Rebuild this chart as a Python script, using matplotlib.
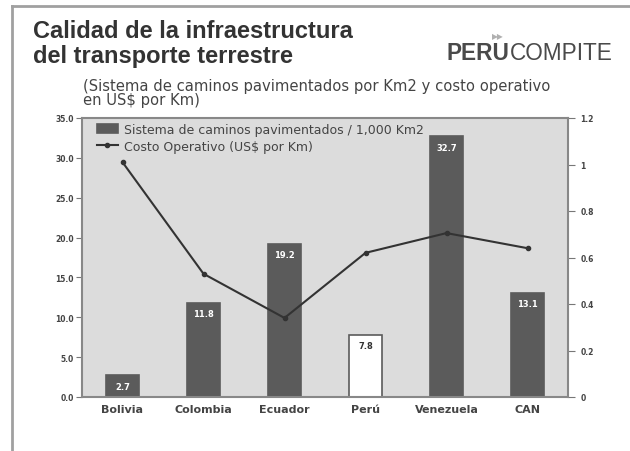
import numpy as np
import matplotlib
matplotlib.use("Agg")
import matplotlib.pyplot as plt
from matplotlib.lines import Line2D

# data
paises = ["Bolivia", "Colombia", "Ecuador", "Perú", "Venezuela", "CAN"]
caminos = [2.7, 11.8, 19.2, 7.8, 32.7, 13.1]
costo = [1.01, 0.53, 0.34, 0.62, 0.705, 0.64]
ticks_izq = [0, 5, 10, 15, 20, 25, 30, 35]
ticks_der = [0, 0.2, 0.4, 0.6, 0.8, 1, 1.2]
etiq_der = ["0", "0.2", "0.4", "0.6", "0.8", "1", "1.2"]

plt.rcParams['font.family'] = ['DejaVu Sans']
gris_txt = "#444444"

W, H = 630, 452
fig = plt.figure(figsize=(6.3, 4.52), dpi=100)

def fy(y):
    return 1 - y / H

# frame lines of the page
fig.add_artist(Line2D([12/W, 12/W], [0, fy(7)], color="#a0a0a0", lw=2))
fig.add_artist(Line2D([12/W, 1], [fy(7), fy(7)], color="#a0a0a0", lw=2))

ax = fig.add_axes([82/W, fy(398), 486/W, 279/H])
ax.set_facecolor("#dcdcdc")

x = np.arange(len(paises))
colores = ["#5b5b5b"] * len(paises)
colores[3] = "white"
bars = ax.bar(x, caminos, width=0.4, color=colores, edgecolor="#5b5b5b", linewidth=1.2,
              label="Sistema de caminos pavimentados / 1,000 Km2", zorder=2)
for i, b in enumerate(bars):
    c = "#333333" if i == 3 else "white"
    ax.text(b.get_x() + b.get_width() / 2, caminos[i] - 0.8, f"{caminos[i]:.1f}",
            ha="center", va="top", fontsize=6, color=c, fontweight="bold", zorder=3)

ax.set_xlim(-0.5, len(paises) - 0.5)
ax.set_ylim(0, 35)
ax.set_yticks(ticks_izq)
ax.set_yticklabels([f"{t:.1f}" for t in ticks_izq], fontsize=5.5, fontweight="bold", color=gris_txt)
ax.set_xticks(x)
ax.set_xticklabels(paises, fontsize=8, fontweight="bold", color=gris_txt)
ax.tick_params(axis="x", length=0, pad=5)
ax.tick_params(axis="y", length=4, color="#777777", direction="out", pad=2)
ax.spines["right"].set_visible(False)
for s in ["left", "bottom", "top"]:
    ax.spines[s].set_color("#888888")
    ax.spines[s].set_linewidth(1.5)

ax2 = ax.twinx()
ax2.plot(x, costo, color="#333333", lw=1.5, marker="o", markersize=3,
         label="Costo Operativo (US$ por Km)", zorder=4)
ax2.set_ylim(0, 1.2)
ax2.set_yticks(ticks_der)
ax2.set_yticklabels(etiq_der, fontsize=5.5, fontweight="bold", color=gris_txt)
ax2.tick_params(axis="y", length=5, color="#777777", direction="out", pad=4)
for s in ["top", "left", "bottom"]:
    ax2.spines[s].set_visible(False)
ax2.spines["right"].set_color("#888888")
ax2.spines["right"].set_linewidth(1.5)

h1, l1 = ax.get_legend_handles_labels()
h2, l2 = ax2.get_legend_handles_labels()
ax2.legend(h1 + h2, l1 + l2, loc="upper left", frameon=False, fontsize=9,
           labelcolor=gris_txt, handlelength=1.7, handletextpad=0.5, borderaxespad=0.0,
           labelspacing=0.3, bbox_to_anchor=(0.02, 1.0))

# titles
fig.text(33/W, fy(38), "Calidad de la infraestructura", family="Liberation Sans",
         fontsize=17, fontweight="bold", color="#333333", va="baseline")
fig.text(33/W, fy(63), "del transporte terrestre", family="Liberation Sans",
         fontsize=17, fontweight="bold", color="#333333", va="baseline")

fig.text(83/W, fy(87), "(Sistema de caminos pavimentados por Km2 y costo operativo",
         fontsize=10.6, color=gris_txt, va="center")
fig.text(83/W, fy(101), "en US$ por Km)", fontsize=10.6, color=gris_txt, va="center")

# logo
peru = fig.text(447/W, fy(60), "PERU", family="Liberation Sans", fontsize=16.3,
                fontweight="bold", color="#4a4a4a", va="baseline")
fig.canvas.draw()
bb = peru.get_window_extent()
fig.text(bb.x1 / W, fy(60), "COMPITE", family="Liberation Sans", fontsize=16.3,
         color="#4a4a4a", va="baseline")
fig.text((bb.x1 - 12) / W, fy(37), "▶▶", fontsize=5.5, color="#b0b0b0", ha="center", va="center")

fig.savefig("out.png", dpi=100)
